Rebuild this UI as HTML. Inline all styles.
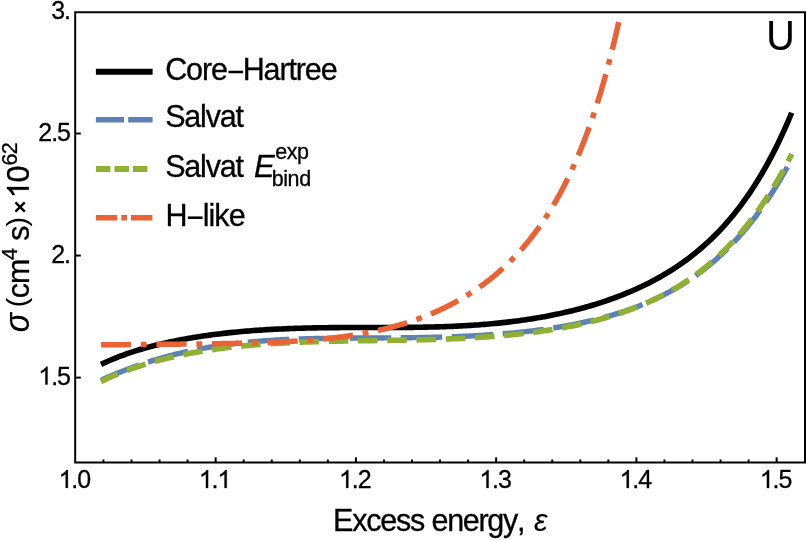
<!DOCTYPE html>
<html><head><meta charset="utf-8"><title>U cross section</title>
<style>
html,body{margin:0;padding:0;background:#fff;}
body{width:806px;height:540px;overflow:hidden;}
svg{display:block;will-change:transform;}
text{font-family:"Liberation Sans",sans-serif;fill:#000;stroke:#000;stroke-width:0.3px;}
.tk{font-size:25px;letter-spacing:-1px;}
.lb{font-size:30.5px;letter-spacing:-1px;}
.sc{font-size:21.5px;letter-spacing:-0.9px;}
.it{font-style:italic;}
.ax line,.ax path{stroke:#000;stroke-width:2;fill:none;}
.cv path{fill:none;stroke-linecap:butt;stroke-linejoin:round;}
</style></head>
<body>
<svg width="806" height="540" viewBox="0 0 806 540">
<rect width="806" height="540" fill="#fff"/>
<g class="cv">
<path d="M101.00,364.38 L103.31,363.29 L105.62,362.23 L107.93,361.21 L110.24,360.21 L112.55,359.24 L114.86,358.29 L117.17,357.38 L119.48,356.48 L121.79,355.61 L124.10,354.77 L126.41,353.95 L128.72,353.15 L131.03,352.37 L133.34,351.61 L135.65,350.87 L137.96,350.16 L140.27,349.46 L142.58,348.78 L144.89,348.11 L147.20,347.47 L149.51,346.84 L151.82,346.23 L154.13,345.63 L156.44,345.05 L158.75,344.48 L161.06,343.93 L163.37,343.39 L165.68,342.87 L167.99,342.36 L170.30,341.86 L172.61,341.37 L174.92,340.90 L177.23,340.44 L179.54,339.99 L181.85,339.56 L184.16,339.13 L186.47,338.72 L188.78,338.31 L191.09,337.92 L193.40,337.54 L195.71,337.16 L198.02,336.80 L200.33,336.45 L202.64,336.10 L204.95,335.77 L207.26,335.44 L209.57,335.12 L211.88,334.81 L214.19,334.51 L216.50,334.22 L218.81,333.94 L221.12,333.66 L223.43,333.40 L225.74,333.14 L228.05,332.88 L230.36,332.64 L232.67,332.40 L234.98,332.17 L237.29,331.95 L239.60,331.73 L241.91,331.53 L244.22,331.32 L246.53,331.13 L248.84,330.94 L251.15,330.76 L253.46,330.58 L255.77,330.41 L258.08,330.25 L260.39,330.09 L262.70,329.94 L265.01,329.80 L267.32,329.66 L269.63,329.52 L271.94,329.39 L274.25,329.27 L276.56,329.15 L278.87,329.04 L281.18,328.93 L283.49,328.83 L285.80,328.73 L288.11,328.64 L290.42,328.55 L292.73,328.47 L295.04,328.39 L297.35,328.31 L299.66,328.24 L301.97,328.18 L304.28,328.12 L306.59,328.06 L308.90,328.00 L311.21,327.95 L313.52,327.91 L315.83,327.86 L318.14,327.82 L320.45,327.78 L322.76,327.75 L325.07,327.72 L327.38,327.69 L329.69,327.66 L332.00,327.64 L334.31,327.62 L336.62,327.60 L338.93,327.58 L341.24,327.57 L343.55,327.56 L345.86,327.55 L348.17,327.54 L350.48,327.53 L352.79,327.52 L355.10,327.52 L357.41,327.51 L359.72,327.51 L362.03,327.51 L364.34,327.51 L366.65,327.51 L368.96,327.50 L371.27,327.50 L373.58,327.50 L375.89,327.50 L378.20,327.50 L380.51,327.50 L382.82,327.49 L385.13,327.49 L387.44,327.49 L389.75,327.48 L392.06,327.47 L394.37,327.47 L396.68,327.46 L398.99,327.45 L401.30,327.43 L403.61,327.42 L405.92,327.40 L408.23,327.38 L410.54,327.36 L412.85,327.33 L415.16,327.30 L417.47,327.27 L419.78,327.24 L422.09,327.20 L424.40,327.16 L426.71,327.12 L429.02,327.07 L431.33,327.02 L433.64,326.96 L435.95,326.90 L438.26,326.83 L440.57,326.76 L442.88,326.69 L445.19,326.61 L447.51,326.53 L449.82,326.44 L452.13,326.34 L454.44,326.25 L456.75,326.14 L459.06,326.03 L461.37,325.91 L463.68,325.79 L465.99,325.66 L468.30,325.52 L470.61,325.38 L472.92,325.23 L475.23,325.08 L477.54,324.92 L479.85,324.75 L482.16,324.57 L484.47,324.39 L486.78,324.20 L489.09,324.00 L491.40,323.79 L493.71,323.58 L496.02,323.36 L498.33,323.13 L500.64,322.89 L502.95,322.64 L505.26,322.39 L507.57,322.12 L509.88,321.85 L512.19,321.57 L514.50,321.28 L516.81,320.98 L519.12,320.67 L521.43,320.35 L523.74,320.03 L526.05,319.69 L528.36,319.34 L530.67,318.99 L532.98,318.62 L535.29,318.24 L537.60,317.85 L539.91,317.46 L542.22,317.05 L544.53,316.63 L546.84,316.20 L549.15,315.75 L551.46,315.30 L553.77,314.84 L556.08,314.36 L558.39,313.87 L560.70,313.37 L563.01,312.86 L565.32,312.34 L567.63,311.80 L569.94,311.25 L572.25,310.69 L574.56,310.11 L576.87,309.52 L579.18,308.92 L581.49,308.31 L583.80,307.68 L586.11,307.03 L588.42,306.38 L590.73,305.70 L593.04,305.01 L595.35,304.31 L597.66,303.59 L599.97,302.86 L602.28,302.11 L604.59,301.34 L606.90,300.56 L609.21,299.76 L611.52,298.94 L613.83,298.10 L616.14,297.25 L618.45,296.38 L620.76,295.49 L623.07,294.58 L625.38,293.65 L627.69,292.70 L630.00,291.72 L632.31,290.73 L634.62,289.72 L636.93,288.68 L639.24,287.62 L641.55,286.54 L643.86,285.43 L646.17,284.30 L648.48,283.14 L650.79,281.96 L653.10,280.75 L655.41,279.52 L657.72,278.25 L660.03,276.96 L662.34,275.64 L664.65,274.29 L666.96,272.90 L669.27,271.49 L671.58,270.04 L673.89,268.56 L676.20,267.04 L678.51,265.49 L680.82,263.90 L683.13,262.27 L685.44,260.61 L687.75,258.90 L690.06,257.15 L692.37,255.36 L694.68,253.53 L696.99,251.65 L699.30,249.73 L701.61,247.75 L703.92,245.73 L706.23,243.66 L708.54,241.53 L710.85,239.35 L713.16,237.12 L715.47,234.83 L717.78,232.48 L720.09,230.07 L722.40,227.59 L724.71,225.05 L727.02,222.45 L729.33,219.78 L731.64,217.04 L733.95,214.22 L736.26,211.33 L738.57,208.37 L740.88,205.32 L743.19,202.19 L745.50,198.98 L747.81,195.69 L750.12,192.30 L752.43,188.82 L754.74,185.25 L757.05,181.58 L759.36,177.81 L761.67,173.94 L763.98,169.96 L766.29,165.87 L768.60,161.67 L770.91,157.36 L773.22,152.92 L775.53,148.37 L777.84,143.68 L780.15,138.87 L782.46,133.92 L784.77,128.84 L787.08,123.61 L789.39,118.24 L791.70,112.72" stroke="#000" stroke-width="5.6"/>
<path d="M101.00,380.38 L103.31,379.33 L105.61,378.30 L107.92,377.28 L110.23,376.28 L112.53,375.29 L114.84,374.32 L117.15,373.37 L119.45,372.43 L121.76,371.51 L124.07,370.60 L126.37,369.71 L128.68,368.83 L130.99,367.97 L133.29,367.13 L135.60,366.30 L137.91,365.48 L140.21,364.68 L142.52,363.90 L144.83,363.13 L147.13,362.37 L149.44,361.63 L151.75,360.91 L154.05,360.20 L156.36,359.50 L158.67,358.82 L160.97,358.15 L163.28,357.50 L165.59,356.86 L167.89,356.24 L170.20,355.63 L172.51,355.03 L174.81,354.45 L177.12,353.88 L179.43,353.32 L181.73,352.78 L184.04,352.25 L186.35,351.73 L188.65,351.23 L190.96,350.74 L193.27,350.26 L195.57,349.80 L197.88,349.34 L200.19,348.90 L202.49,348.47 L204.80,348.05 L207.11,347.65 L209.41,347.25 L211.72,346.87 L214.03,346.50 L216.33,346.14 L218.64,345.79 L220.95,345.45 L223.25,345.12 L225.56,344.80 L227.87,344.49 L230.17,344.19 L232.48,343.90 L234.79,343.62 L237.09,343.35 L239.40,343.09 L241.71,342.84 L244.01,342.60 L246.32,342.36 L248.63,342.14 L250.93,341.92 L253.24,341.71 L255.55,341.51 L257.85,341.32 L260.16,341.14 L262.47,340.96 L264.77,340.79 L267.08,340.63 L269.39,340.47 L271.69,340.32 L274.00,340.18 L276.31,340.04 L278.62,339.91 L280.92,339.79 L283.23,339.67 L285.54,339.56 L287.84,339.46 L290.15,339.36 L292.46,339.26 L294.76,339.17 L297.07,339.08 L299.38,339.00 L301.68,338.93 L303.99,338.86 L306.30,338.79 L308.60,338.73 L310.91,338.67 L313.22,338.61 L315.52,338.56 L317.83,338.51 L320.14,338.46 L322.44,338.42 L324.75,338.38 L327.06,338.35 L329.36,338.31 L331.67,338.28 L333.98,338.25 L336.28,338.23 L338.59,338.20 L340.90,338.18 L343.20,338.16 L345.51,338.14 L347.82,338.12 L350.12,338.10 L352.43,338.09 L354.74,338.07 L357.04,338.06 L359.35,338.05 L361.66,338.04 L363.96,338.02 L366.27,338.01 L368.58,338.00 L370.88,337.99 L373.19,337.98 L375.50,337.97 L377.80,337.96 L380.11,337.95 L382.42,337.93 L384.72,337.92 L387.03,337.91 L389.34,337.89 L391.64,337.88 L393.95,337.86 L396.26,337.84 L398.56,337.82 L400.87,337.80 L403.18,337.78 L405.48,337.76 L407.79,337.73 L410.10,337.70 L412.40,337.67 L414.71,337.64 L417.02,337.61 L419.32,337.57 L421.63,337.53 L423.94,337.49 L426.24,337.45 L428.55,337.40 L430.86,337.35 L433.16,337.30 L435.47,337.25 L437.78,337.19 L440.08,337.13 L442.39,337.06 L444.70,336.99 L447.00,336.92 L449.31,336.85 L451.62,336.77 L453.92,336.68 L456.23,336.60 L458.54,336.51 L460.84,336.41 L463.15,336.31 L465.46,336.21 L467.76,336.10 L470.07,335.99 L472.38,335.87 L474.68,335.75 L476.99,335.62 L479.30,335.49 L481.60,335.36 L483.91,335.21 L486.22,335.07 L488.52,334.92 L490.83,334.76 L493.14,334.60 L495.44,334.43 L497.75,334.25 L500.06,334.07 L502.36,333.89 L504.67,333.69 L506.98,333.50 L509.28,333.29 L511.59,333.08 L513.90,332.86 L516.20,332.64 L518.51,332.41 L520.82,332.17 L523.12,331.92 L525.43,331.67 L527.74,331.41 L530.04,331.14 L532.35,330.87 L534.66,330.58 L536.96,330.29 L539.27,329.99 L541.58,329.68 L543.88,329.37 L546.19,329.04 L548.50,328.71 L550.80,328.37 L553.11,328.01 L555.42,327.65 L557.72,327.28 L560.03,326.90 L562.34,326.51 L564.64,326.11 L566.95,325.70 L569.26,325.27 L571.56,324.84 L573.87,324.39 L576.18,323.94 L578.48,323.47 L580.79,322.99 L583.10,322.50 L585.40,321.99 L587.71,321.47 L590.02,320.94 L592.32,320.40 L594.63,319.84 L596.94,319.27 L599.24,318.68 L601.55,318.08 L603.86,317.47 L606.16,316.84 L608.47,316.19 L610.78,315.53 L613.08,314.85 L615.39,314.15 L617.70,313.44 L620.01,312.71 L622.31,311.96 L624.62,311.19 L626.93,310.40 L629.23,309.60 L631.54,308.77 L633.85,307.92 L636.15,307.06 L638.46,306.17 L640.77,305.26 L643.07,304.32 L645.38,303.37 L647.69,302.39 L649.99,301.38 L652.30,300.36 L654.61,299.30 L656.91,298.22 L659.22,297.12 L661.53,295.98 L663.83,294.82 L666.14,293.63 L668.45,292.41 L670.75,291.17 L673.06,289.89 L675.37,288.58 L677.67,287.23 L679.98,285.86 L682.29,284.45 L684.59,283.01 L686.90,281.53 L689.21,280.01 L691.51,278.46 L693.82,276.87 L696.13,275.24 L698.43,273.57 L700.74,271.86 L703.05,270.11 L705.35,268.32 L707.66,266.48 L709.97,264.60 L712.27,262.67 L714.58,260.70 L716.89,258.67 L719.19,256.60 L721.50,254.48 L723.81,252.31 L726.11,250.08 L728.42,247.80 L730.73,245.47 L733.03,243.08 L735.34,240.63 L737.65,238.12 L739.95,235.56 L742.26,232.93 L744.57,230.24 L746.87,227.48 L749.18,224.66 L751.49,221.77 L753.79,218.81 L756.10,215.78 L758.41,212.68 L760.71,209.51 L763.02,206.26 L765.33,202.94 L767.63,199.53 L769.94,196.05 L772.25,192.48 L774.55,188.83 L776.86,185.09 L779.17,181.27 L781.47,177.36 L783.78,173.36 L786.09,169.26 L788.39,165.07 L790.70,160.78" stroke="#5E81B5" stroke-width="5.4" stroke-dasharray="41.5 9.5" stroke-dashoffset="0.5"/>
<path d="M101.00,381.54 L103.31,380.43 L105.62,379.34 L107.93,378.29 L110.24,377.25 L112.55,376.24 L114.86,375.26 L117.17,374.29 L119.48,373.35 L121.79,372.43 L124.10,371.54 L126.41,370.66 L128.72,369.81 L131.03,368.97 L133.35,368.16 L135.66,367.36 L137.97,366.58 L140.28,365.83 L142.59,365.08 L144.90,364.36 L147.21,363.66 L149.52,362.97 L151.83,362.30 L154.14,361.64 L156.45,361.00 L158.76,360.38 L161.07,359.77 L163.38,359.18 L165.69,358.60 L168.00,358.04 L170.31,357.49 L172.62,356.95 L174.93,356.43 L177.24,355.92 L179.55,355.42 L181.86,354.94 L184.17,354.46 L186.48,354.00 L188.79,353.56 L191.10,353.12 L193.41,352.70 L195.73,352.28 L198.04,351.88 L200.35,351.49 L202.66,351.11 L204.97,350.74 L207.28,350.38 L209.59,350.03 L211.90,349.69 L214.21,349.36 L216.52,349.03 L218.83,348.72 L221.14,348.42 L223.45,348.12 L225.76,347.84 L228.07,347.56 L230.38,347.29 L232.69,347.03 L235.00,346.77 L237.31,346.53 L239.62,346.29 L241.93,346.06 L244.24,345.83 L246.55,345.62 L248.86,345.41 L251.17,345.20 L253.48,345.01 L255.79,344.82 L258.11,344.63 L260.42,344.46 L262.73,344.28 L265.04,344.12 L267.35,343.96 L269.66,343.80 L271.97,343.65 L274.28,343.51 L276.59,343.37 L278.90,343.24 L281.21,343.11 L283.52,342.99 L285.83,342.87 L288.14,342.75 L290.45,342.64 L292.76,342.54 L295.07,342.44 L297.38,342.34 L299.69,342.24 L302.00,342.15 L304.31,342.07 L306.62,341.99 L308.93,341.91 L311.24,341.83 L313.55,341.76 L315.86,341.69 L318.17,341.62 L320.48,341.56 L322.80,341.49 L325.11,341.44 L327.42,341.38 L329.73,341.32 L332.04,341.27 L334.35,341.22 L336.66,341.17 L338.97,341.13 L341.28,341.08 L343.59,341.04 L345.90,341.00 L348.21,340.96 L350.52,340.92 L352.83,340.88 L355.14,340.85 L357.45,340.81 L359.76,340.78 L362.07,340.74 L364.38,340.71 L366.69,340.67 L369.00,340.64 L371.31,340.61 L373.62,340.58 L375.93,340.55 L378.24,340.51 L380.55,340.48 L382.86,340.45 L385.18,340.41 L387.49,340.38 L389.80,340.35 L392.11,340.31 L394.42,340.27 L396.73,340.24 L399.04,340.20 L401.35,340.16 L403.66,340.12 L405.97,340.08 L408.28,340.03 L410.59,339.99 L412.90,339.94 L415.21,339.89 L417.52,339.84 L419.83,339.79 L422.14,339.74 L424.45,339.68 L426.76,339.62 L429.07,339.56 L431.38,339.49 L433.69,339.43 L436.00,339.36 L438.31,339.28 L440.62,339.21 L442.93,339.13 L445.24,339.05 L447.56,338.96 L449.87,338.87 L452.18,338.78 L454.49,338.68 L456.80,338.58 L459.11,338.48 L461.42,338.37 L463.73,338.25 L466.04,338.14 L468.35,338.02 L470.66,337.89 L472.97,337.76 L475.28,337.63 L477.59,337.49 L479.90,337.34 L482.21,337.19 L484.52,337.03 L486.83,336.87 L489.14,336.71 L491.45,336.54 L493.76,336.36 L496.07,336.18 L498.38,335.99 L500.69,335.79 L503.00,335.59 L505.31,335.38 L507.62,335.17 L509.94,334.94 L512.25,334.72 L514.56,334.48 L516.87,334.24 L519.18,333.99 L521.49,333.73 L523.80,333.47 L526.11,333.20 L528.42,332.92 L530.73,332.63 L533.04,332.33 L535.35,332.03 L537.66,331.72 L539.97,331.40 L542.28,331.07 L544.59,330.73 L546.90,330.38 L549.21,330.02 L551.52,329.65 L553.83,329.27 L556.14,328.89 L558.45,328.49 L560.76,328.08 L563.07,327.66 L565.38,327.23 L567.69,326.79 L570.00,326.34 L572.32,325.88 L574.63,325.40 L576.94,324.91 L579.25,324.41 L581.56,323.90 L583.87,323.38 L586.18,322.84 L588.49,322.29 L590.80,321.72 L593.11,321.14 L595.42,320.55 L597.73,319.94 L600.04,319.32 L602.35,318.68 L604.66,318.03 L606.97,317.36 L609.28,316.67 L611.59,315.97 L613.90,315.25 L616.21,314.51 L618.52,313.76 L620.83,312.98 L623.14,312.19 L625.45,311.38 L627.76,310.55 L630.07,309.70 L632.38,308.83 L634.69,307.94 L637.01,307.02 L639.32,306.09 L641.63,305.13 L643.94,304.15 L646.25,303.14 L648.56,302.12 L650.87,301.06 L653.18,299.98 L655.49,298.88 L657.80,297.75 L660.11,296.59 L662.42,295.40 L664.73,294.19 L667.04,292.95 L669.35,291.67 L671.66,290.37 L673.97,289.03 L676.28,287.67 L678.59,286.27 L680.90,284.83 L683.21,283.36 L685.52,281.86 L687.83,280.32 L690.14,278.74 L692.45,277.13 L694.76,275.47 L697.07,273.78 L699.39,272.04 L701.70,270.26 L704.01,268.44 L706.32,266.58 L708.63,264.67 L710.94,262.71 L713.25,260.70 L715.56,258.65 L717.87,256.55 L720.18,254.40 L722.49,252.19 L724.80,249.93 L727.11,247.62 L729.42,245.24 L731.73,242.82 L734.04,240.33 L736.35,237.78 L738.66,235.17 L740.97,232.50 L743.28,229.76 L745.59,226.95 L747.90,224.08 L750.21,221.13 L752.52,218.12 L754.83,215.03 L757.14,211.87 L759.45,208.63 L761.77,205.31 L764.08,201.90 L766.39,198.42 L768.70,194.85 L771.01,191.20 L773.32,187.46 L775.63,183.62 L777.94,179.69 L780.25,175.67 L782.56,171.55 L784.87,167.33 L787.18,163.01 L789.49,158.58 L791.80,154.05" stroke="#8FB032" stroke-width="5.6" stroke-dasharray="19.5 9.75" stroke-dashoffset="0.9"/>
<path d="M101.00,344.83 L103.07,344.82 L105.15,344.80 L107.21,344.78 L109.28,344.77 L111.34,344.75 L113.40,344.73 L115.46,344.71 L117.51,344.70 L119.56,344.68 L121.61,344.66 L123.65,344.65 L125.69,344.63 L127.73,344.61 L129.76,344.59 L131.79,344.58 L133.82,344.56 L135.84,344.54 L137.86,344.52 L139.88,344.51 L141.90,344.49 L143.91,344.47 L145.91,344.45 L147.92,344.44 L149.92,344.42 L151.92,344.40 L153.92,344.38 L155.91,344.37 L157.90,344.35 L159.88,344.33 L161.87,344.31 L163.85,344.29 L165.82,344.28 L167.79,344.26 L169.76,344.24 L171.73,344.22 L173.69,344.20 L175.65,344.18 L177.61,344.16 L179.57,344.14 L181.52,344.12 L183.46,344.10 L185.41,344.08 L187.35,344.06 L189.28,344.04 L191.22,344.02 L193.15,344.00 L195.08,343.98 L197.00,343.95 L198.92,343.93 L200.84,343.91 L202.75,343.88 L204.66,343.86 L206.57,343.83 L208.48,343.81 L210.38,343.78 L212.27,343.76 L214.17,343.73 L216.06,343.70 L217.95,343.67 L219.83,343.64 L221.71,343.61 L223.59,343.58 L225.47,343.55 L227.34,343.52 L229.20,343.49 L231.07,343.45 L232.93,343.42 L234.79,343.38 L236.64,343.34 L238.49,343.30 L240.34,343.26 L242.19,343.22 L244.03,343.18 L245.86,343.13 L247.70,343.09 L249.53,343.04 L251.36,342.99 L253.18,342.95 L255.00,342.89 L256.82,342.84 L258.63,342.79 L260.44,342.73 L262.25,342.67 L264.05,342.61 L265.85,342.55 L267.65,342.48 L269.44,342.42 L271.23,342.35 L273.02,342.28 L274.80,342.21 L276.58,342.13 L278.35,342.05 L280.13,341.97 L281.89,341.89 L283.66,341.81 L285.42,341.72 L287.18,341.63 L288.94,341.53 L290.69,341.44 L292.43,341.34 L294.18,341.24 L295.92,341.13 L297.66,341.02 L299.39,340.91 L301.12,340.79 L302.85,340.68 L304.57,340.55 L306.29,340.43 L308.01,340.30 L309.72,340.17 L311.43,340.03 L313.14,339.89 L314.84,339.75 L316.54,339.60 L318.23,339.45 L319.92,339.29 L321.61,339.13 L323.29,338.96 L324.97,338.80 L326.65,338.62 L328.32,338.45 L329.99,338.26 L331.66,338.08 L333.32,337.89 L334.98,337.69 L336.64,337.49 L338.29,337.28 L339.94,337.07 L341.58,336.86 L343.22,336.64 L344.86,336.41 L346.49,336.18 L348.12,335.94 L349.75,335.70 L351.37,335.46 L352.99,335.21 L354.60,334.95 L356.21,334.69 L357.82,334.42 L359.43,334.14 L361.03,333.86 L362.62,333.58 L364.22,333.29 L365.80,332.99 L367.39,332.69 L368.97,332.38 L370.55,332.07 L372.12,331.74 L373.69,331.42 L375.26,331.09 L376.82,330.75 L378.38,330.40 L379.94,330.05 L381.49,329.69 L383.04,329.33 L384.58,328.96 L386.12,328.58 L387.65,328.20 L389.19,327.81 L390.72,327.41 L392.24,327.01 L393.76,326.60 L395.28,326.18 L396.79,325.76 L398.30,325.33 L399.81,324.89 L401.31,324.45 L402.81,324.00 L404.30,323.54 L405.79,323.07 L407.27,322.60 L408.76,322.12 L410.24,321.64 L411.71,321.15 L413.18,320.65 L414.65,320.14 L416.11,319.62 L417.57,319.10 L419.02,318.57 L420.47,318.04 L421.92,317.49 L423.36,316.94 L424.80,316.38 L426.23,315.82 L427.67,315.24 L429.09,314.66 L430.51,314.07 L431.93,313.48 L433.35,312.87 L434.76,312.26 L436.17,311.64 L437.57,311.02 L438.97,310.38 L440.36,309.74 L441.75,309.09 L443.14,308.43 L444.52,307.76 L445.90,307.09 L447.27,306.40 L448.64,305.71 L450.01,305.01 L451.37,304.31 L452.73,303.59 L454.08,302.87 L455.43,302.14 L456.77,301.40 L458.11,300.65 L459.45,299.89 L460.78,299.12 L462.11,298.35 L463.43,297.57 L464.75,296.78 L466.07,295.98 L467.38,295.17 L468.69,294.35 L469.99,293.52 L471.29,292.69 L472.58,291.85 L473.87,290.99 L475.16,290.13 L476.44,289.26 L477.72,288.38 L478.99,287.49 L480.26,286.59 L481.52,285.69 L482.78,284.77 L484.04,283.84 L485.29,282.91 L486.53,281.96 L487.78,281.01 L489.01,280.04 L490.25,279.07 L491.48,278.09 L492.70,277.10 L493.92,276.09 L495.14,275.08 L496.35,274.06 L497.55,273.03 L498.76,271.98 L499.95,270.93 L501.15,269.87 L502.34,268.80 L503.52,267.71 L504.70,266.62 L505.88,265.52 L507.05,264.41 L508.21,263.28 L509.37,262.15 L510.53,261.00 L511.68,259.85 L512.83,258.68 L513.97,257.51 L515.11,256.32 L516.24,255.12 L517.37,253.91 L518.50,252.69 L519.62,251.46 L520.73,250.22 L521.84,248.97 L522.95,247.70 L524.05,246.43 L525.14,245.14 L526.23,243.85 L527.32,242.54 L528.40,241.22 L529.48,239.89 L530.55,238.55 L531.61,237.19 L532.68,235.83 L533.73,234.45 L534.78,233.06 L535.83,231.66 L536.87,230.25 L537.91,228.83 L538.94,227.40 L539.97,225.95 L540.99,224.50 L542.01,223.03 L543.02,221.55 L544.03,220.06 L545.03,218.55 L546.03,217.04 L547.02,215.51 L548.01,213.98 L548.99,212.43 L549.97,210.87 L550.94,209.29 L551.90,207.71 L552.86,206.11 L553.82,204.51 L554.77,202.89 L555.72,201.26 L556.66,199.62 L557.59,197.97 L558.52,196.30 L559.44,194.63 L560.36,192.94 L561.28,191.25 L562.18,189.54 L563.09,187.82 L563.98,186.09 L564.87,184.35 L565.76,182.60 L566.64,180.84 L567.51,179.07 L568.38,177.29 L569.25,175.50 L570.11,173.70 L570.96,171.89 L571.81,170.07 L572.65,168.24 L573.48,166.40 L574.31,164.55 L575.14,162.69 L575.95,160.83 L576.77,158.95 L577.57,157.07 L578.37,155.18 L579.17,153.28 L579.96,151.37 L580.74,149.46 L581.52,147.53 L582.29,145.61 L583.05,143.67 L583.81,141.73 L584.56,139.78 L585.31,137.83 L586.05,135.87 L586.78,133.91 L587.51,131.94 L588.23,129.96 L588.95,127.99 L589.65,126.01 L590.36,124.02 L591.05,122.04 L591.74,120.05 L592.42,118.06 L593.10,116.06 L593.77,114.07 L594.43,112.07 L595.09,110.08 L595.74,108.09 L596.38,106.09 L597.02,104.10 L597.64,102.11 L598.27,100.13 L598.88,98.14 L599.49,96.16 L600.09,94.19 L600.68,92.21 L601.27,90.25 L601.85,88.29 L602.42,86.34 L602.98,84.39 L603.54,82.46 L604.09,80.53 L604.63,78.62 L605.17,76.71 L605.69,74.82 L606.21,72.93 L606.72,71.06 L607.22,69.21 L607.72,67.37 L608.20,65.55 L608.68,63.74 L609.15,61.95 L609.61,60.18 L610.07,58.43 L610.51,56.70 L610.94,54.99 L611.37,53.30 L611.79,51.64 L612.20,50.01 L612.59,48.40 L612.98,46.82 L613.36,45.26 L613.73,43.74 L614.09,42.25 L614.44,40.79 L614.78,39.37 L615.11,37.99 L615.43,36.64 L615.74,35.33 L616.03,34.07 L616.32,32.84 L616.59,31.67 L616.85,30.54 L617.10,29.46 L617.33,28.44 L617.55,27.47 L617.76,26.56 L617.95,25.71 L618.12,24.93 L618.28,24.23 L618.42,23.60 L618.54,23.06 L618.64,22.62 L618.71,22.29 L618.75,22.13" stroke="#EB6235" stroke-width="5.5" stroke-dasharray="30.2 9.8 5.8 9.8" stroke-dashoffset="0.2"/>
</g>
<g class="ax">
<path d="M75.2,12.25 H805.0 V462.5 H75.2 Z"/>
<line x1="103.45" y1="462.5" x2="103.45" y2="459.50"/>
<line x1="131.50" y1="462.5" x2="131.50" y2="459.50"/>
<line x1="159.55" y1="462.5" x2="159.55" y2="459.50"/>
<line x1="187.60" y1="462.5" x2="187.60" y2="459.50"/>
<line x1="215.65" y1="462.5" x2="215.65" y2="457.30"/>
<line x1="243.70" y1="462.5" x2="243.70" y2="459.50"/>
<line x1="271.75" y1="462.5" x2="271.75" y2="459.50"/>
<line x1="299.80" y1="462.5" x2="299.80" y2="459.50"/>
<line x1="327.85" y1="462.5" x2="327.85" y2="459.50"/>
<line x1="355.90" y1="462.5" x2="355.90" y2="457.30"/>
<line x1="383.95" y1="462.5" x2="383.95" y2="459.50"/>
<line x1="412.00" y1="462.5" x2="412.00" y2="459.50"/>
<line x1="440.05" y1="462.5" x2="440.05" y2="459.50"/>
<line x1="468.10" y1="462.5" x2="468.10" y2="459.50"/>
<line x1="496.15" y1="462.5" x2="496.15" y2="457.30"/>
<line x1="524.20" y1="462.5" x2="524.20" y2="459.50"/>
<line x1="552.25" y1="462.5" x2="552.25" y2="459.50"/>
<line x1="580.30" y1="462.5" x2="580.30" y2="459.50"/>
<line x1="608.35" y1="462.5" x2="608.35" y2="459.50"/>
<line x1="636.40" y1="462.5" x2="636.40" y2="457.30"/>
<line x1="664.45" y1="462.5" x2="664.45" y2="459.50"/>
<line x1="692.50" y1="462.5" x2="692.50" y2="459.50"/>
<line x1="720.55" y1="462.5" x2="720.55" y2="459.50"/>
<line x1="748.60" y1="462.5" x2="748.60" y2="459.50"/>
<line x1="776.65" y1="462.5" x2="776.65" y2="457.30"/>
<line x1="75.2" y1="377.60" x2="80.80" y2="377.60"/>
<line x1="75.2" y1="255.55" x2="80.80" y2="255.55"/>
<line x1="75.2" y1="133.50" x2="80.80" y2="133.50"/>
</g>
<g>
<path d="M763,0 H583 V1147 Q518,1085 412.5,1023 T223,930 V1104 Q375,1175.5 488.5,1277 T649,1472 H763 Z" transform="translate(58.55,487.90) scale(0.01221,-0.01221)" fill="#000" stroke="#000" stroke-width="24.6"/>
<text x="71.33 77.16" y="487.90" style="font-size:25px">.0</text>
<path d="M763,0 H583 V1147 Q518,1085 412.5,1023 T223,930 V1104 Q375,1175.5 488.5,1277 T649,1472 H763 Z" transform="translate(198.80,487.90) scale(0.01221,-0.01221)" fill="#000" stroke="#000" stroke-width="24.6"/>
<path d="M763,0 H583 V1147 Q518,1085 412.5,1023 T223,930 V1104 Q375,1175.5 488.5,1277 T649,1472 H763 Z" transform="translate(217.41,487.90) scale(0.01221,-0.01221)" fill="#000" stroke="#000" stroke-width="24.6"/>
<text x="211.58" y="487.90" style="font-size:25px">.</text>
<path d="M763,0 H583 V1147 Q518,1085 412.5,1023 T223,930 V1104 Q375,1175.5 488.5,1277 T649,1472 H763 Z" transform="translate(339.04,487.90) scale(0.01221,-0.01221)" fill="#000" stroke="#000" stroke-width="24.6"/>
<text x="351.82 357.65" y="487.90" style="font-size:25px">.2</text>
<path d="M763,0 H583 V1147 Q518,1085 412.5,1023 T223,930 V1104 Q375,1175.5 488.5,1277 T649,1472 H763 Z" transform="translate(479.30,487.90) scale(0.01221,-0.01221)" fill="#000" stroke="#000" stroke-width="24.6"/>
<text x="492.08 497.91" y="487.90" style="font-size:25px">.3</text>
<path d="M763,0 H583 V1147 Q518,1085 412.5,1023 T223,930 V1104 Q375,1175.5 488.5,1277 T649,1472 H763 Z" transform="translate(619.54,487.90) scale(0.01221,-0.01221)" fill="#000" stroke="#000" stroke-width="24.6"/>
<text x="632.32 638.15" y="487.90" style="font-size:25px">.4</text>
<path d="M763,0 H583 V1147 Q518,1085 412.5,1023 T223,930 V1104 Q375,1175.5 488.5,1277 T649,1472 H763 Z" transform="translate(759.79,487.90) scale(0.01221,-0.01221)" fill="#000" stroke="#000" stroke-width="24.6"/>
<text x="772.57 778.40" y="487.90" style="font-size:25px">.5</text>
<text x="51.15 64.05" y="19.00" style="font-size:25px">3.</text>
<text x="38.25 51.15 57.10" y="140.50" style="font-size:25px">2.5</text>
<text x="51.15 64.05" y="262.55" style="font-size:25px">2.</text>
<path d="M763,0 H583 V1147 Q518,1085 412.5,1023 T223,930 V1104 Q375,1175.5 488.5,1277 T649,1472 H763 Z" transform="translate(38.25,384.60) scale(0.01221,-0.01221)" fill="#000" stroke="#000" stroke-width="24.6"/>
<text x="51.15 57.10" y="384.60" style="font-size:25px">.5</text>
</g>
<!-- legend -->
<g class="cv">
<path d="M95.9,71.8 H152.6" stroke="#000" stroke-width="5.9"/>
<path d="M95.9,119.8 H152.6" stroke="#5E81B5" stroke-width="5.4" stroke-dasharray="28.2 4.1"/>
<path d="M95.9,169 H147.4" stroke="#8FB032" stroke-width="5.8" stroke-dasharray="14.5 4.05"/>
<path d="M95.9,217.7 H152.6" stroke="#EB6235" stroke-width="5.4" stroke-dasharray="21.4 4 5.7 4"/>
</g>
<text x="165.2" y="79.7" class="lb" style="letter-spacing:-1.12px">Core<tspan style="fill:none;stroke:none">–</tspan>Hartree</text>
<rect x="228.5" y="70.72" width="14.6" height="2.55" fill="#000"/>
<text x="165.2" y="127.4" class="lb" style="letter-spacing:-1.2px">Salvat</text>
<text x="165.2" y="176.7" class="lb" style="letter-spacing:-1.2px">Salvat</text>
<text x="254.0" y="176.7" class="lb it" style="font-size:31px">E</text>
<text x="275.2" y="159.4" class="sc" style="letter-spacing:-0.45px">exp</text>
<text x="271.7" y="185.8" class="sc" style="letter-spacing:-0.4px">bind</text>
<text x="165.6" y="225.6" class="lb" style="letter-spacing:-0.95px">H<tspan style="fill:none;stroke:none">–</tspan>like</text>
<rect x="187.9" y="216.42" width="14.7" height="2.55" fill="#000"/>
<text transform="translate(766.2,50.4) scale(0.912,1)" style="font-size:43.3px;stroke-width:0.2px">U</text>
<text x="333.0" y="530.9" class="lb" style="letter-spacing:-1.2px">Excess</text>
<text x="431.5" y="530.9" class="lb" style="letter-spacing:-1.3px">energy</text>
<text x="517.0" y="530.9" class="lb">,</text>
<text x="534.1" y="530.9" class="lb it" style="stroke-width:0.1px">ε</text>
<g transform="translate(28.8,331) rotate(-90)">
<text transform="translate(-1.2,0) scale(1,1.07)" class="lb it" style="font-size:32px;stroke-width:0.05px">σ</text>
<text x="23.7" y="-2.5" class="lb" style="font-size:28.4px;stroke-width:0.1px">(</text>
<text x="32.7" y="0" class="lb">cm</text>
<text x="71.0" y="-12.3" class="sc">4</text>
<text x="90.2" y="0" class="lb">s</text>
<text x="104.6" y="-2.5" class="lb" style="font-size:28.4px;stroke-width:0.1px">)</text>
<path d="M119.3,-13.4 l9.4,9.4 m0,-9.4 l-9.4,9.4" stroke="#000" stroke-width="2.4" fill="none"/>
<path d="M763,0 H583 V1147 Q518,1085 412.5,1023 T223,930 V1104 Q375,1175.5 488.5,1277 T649,1472 H763 Z" transform="translate(132.60,0.00) scale(0.01489,-0.01489)" fill="#000" stroke="#000" stroke-width="20.1"/>
<text x="148.56" y="0.00" style="font-size:30.5px">0</text>
<text x="165.6" y="-12.3" class="sc">62</text>
</g>
</svg>
</body></html>
